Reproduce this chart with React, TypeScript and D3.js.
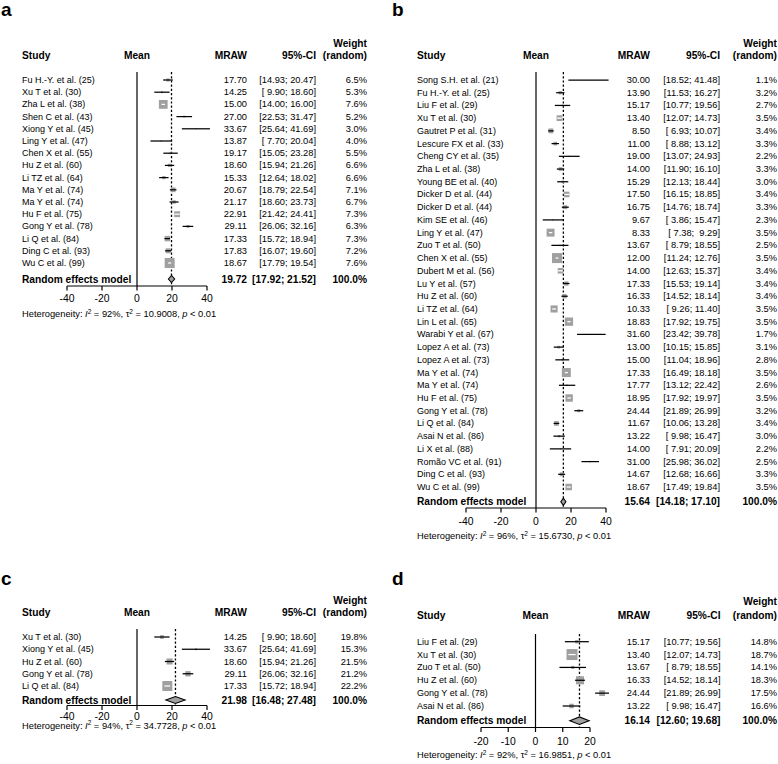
import React from "react";
import * as d3 from "d3";

const FONT = '"Liberation Sans", Arial, Helvetica, sans-serif';

// ---------- Panel a ----------
const studiesA = [
  "Fu H.-Y. et al. (25)", "Xu T et al. (30)", "Zha L et al. (38)", "Shen C et al. (43)",
  "Xiong Y et al. (45)", "Ling Y et al. (47)", "Chen X et al. (55)", "Hu Z et al. (60)",
  "Li TZ et al. (64)", "Ma Y et al. (74)", "Ma Y et al. (74)", "Hu F et al. (75)",
  "Gong Y et al. (78)", "Li Q et al. (84)", "Ding C et al. (93)", "Wu C et al. (99)",
];
const meanA = [17.7, 14.25, 15.0, 27.0, 33.67, 13.87, 19.17, 18.6, 15.33, 20.67, 21.17, 22.91, 29.11, 17.33, 17.83, 18.67];
const lowerA = [14.93, 9.9, 14.0, 22.53, 25.64, 7.7, 15.05, 15.94, 12.64, 18.79, 18.6, 21.42, 26.06, 15.72, 16.07, 17.79];
const upperA = [20.47, 18.6, 16.0, 31.47, 41.69, 20.04, 23.28, 21.26, 18.02, 22.54, 23.73, 24.41, 32.16, 18.94, 19.6, 19.54];
const weightA = [6.5, 5.3, 7.6, 5.2, 3.0, 4.0, 5.5, 6.6, 6.6, 7.1, 6.7, 7.3, 6.3, 7.3, 7.2, 7.6];
const pooledA = [19.72, 17.92, 21.52];
const hetA = ["92%", "10.9008"];

// ---------- Panel b ----------
const studiesB = [
  "Song S.H. et al. (21)", "Fu H.-Y. et al. (25)", "Liu F et al. (29)", "Xu T et al. (30)",
  "Gautret P et al. (31)", "Lescure FX et al. (33)", "Cheng CY et al. (35)", "Zha L et al. (38)",
  "Young BE et al. (40)", "Dicker D et al. (44)", "Dicker D et al. (44)", "Kim SE et al. (46)",
  "Ling Y et al. (47)", "Zuo T et al. (50)", "Chen X et al. (55)", "Dubert M et al. (56)",
  "Lu Y et al. (57)", "Hu Z et al. (60)", "Li TZ et al. (64)", "Lin L et al. (65)",
  "Warabi Y et al. (67)", "Lopez A et al. (73)", "Lopez A et al. (73)", "Ma Y et al. (74)",
  "Ma Y et al. (74)", "Hu F et al. (75)", "Gong Y et al. (78)", "Li Q et al. (84)",
  "Asai N et al. (86)", "Li X et al. (88)", "Romão VC et al. (91)", "Ding C et al. (93)",
  "Wu C et al. (99)",
];
const meanB = [30.0, 13.9, 15.17, 13.4, 8.5, 11.0, 19.0, 14.0, 15.29, 17.5, 16.75, 9.67, 8.33, 13.67, 12.0, 14.0, 17.33, 16.33, 10.33, 18.83, 31.6, 13.0, 15.0, 17.33, 17.77, 18.95, 24.44, 11.67, 13.22, 14.0, 31.0, 14.67, 18.67];
const lowerB = [18.52, 11.53, 10.77, 12.07, 6.93, 8.88, 13.07, 11.9, 12.13, 16.15, 14.76, 3.86, 7.38, 8.79, 11.24, 12.63, 15.53, 14.52, 9.26, 17.92, 23.42, 10.15, 11.04, 16.49, 13.12, 17.92, 21.89, 10.06, 9.98, 7.91, 25.98, 12.68, 17.49];
const upperB = [41.48, 16.27, 19.56, 14.73, 10.07, 13.12, 24.93, 16.1, 18.44, 18.85, 18.74, 15.47, 9.29, 18.55, 12.76, 15.37, 19.14, 18.14, 11.4, 19.75, 39.78, 15.85, 18.96, 18.18, 22.42, 19.97, 26.99, 13.28, 16.47, 20.09, 36.02, 16.66, 19.84];
const weightB = [1.1, 3.2, 2.7, 3.5, 3.4, 3.3, 2.2, 3.3, 3.0, 3.4, 3.3, 2.3, 3.5, 2.5, 3.5, 3.4, 3.4, 3.4, 3.5, 3.5, 1.7, 3.1, 2.8, 3.5, 2.6, 3.5, 3.2, 3.4, 3.0, 2.2, 2.5, 3.3, 3.5];
const pooledB = [15.64, 14.18, 17.1];
const hetB = ["96%", "15.6730"];

// ---------- Panel c ----------
const studiesC = ["Xu T et al. (30)", "Xiong Y et al. (45)", "Hu Z et al. (60)", "Gong Y et al. (78)", "Li Q et al. (84)"];
const meanC = [14.25, 33.67, 18.6, 29.11, 17.33];
const lowerC = [9.9, 25.64, 15.94, 26.06, 15.72];
const upperC = [18.6, 41.69, 21.26, 32.16, 18.94];
const weightC = [19.8, 15.3, 21.5, 21.2, 22.2];
const pooledC = [21.98, 16.48, 27.48];
const hetC = ["94%", "34.7728"];

// ---------- Panel d ----------
const studiesD = ["Liu F et al. (29)", "Xu T et al. (30)", "Zuo T et al. (50)", "Hu Z et al. (60)", "Gong Y et al. (78)", "Asai N et al. (86)"];
const meanD = [15.17, 13.4, 13.67, 16.33, 24.44, 13.22];
const lowerD = [10.77, 12.07, 8.79, 14.52, 21.89, 9.98];
const upperD = [19.56, 14.73, 18.55, 18.14, 26.99, 16.47];
const weightD = [14.8, 18.7, 14.1, 18.3, 17.5, 16.6];
const pooledD = [16.14, 12.6, 19.68];
const hetD = ["92%", "16.9851"];

const ticks40 = [-40, -20, 0, 20, 40];
const ticks20 = [-20, -10, 0, 10, 20];

type Layout = {
  x0: number; titleY: number; textX: number;
  hdr1: number; hdr2: number; lineTop: number;
  row0: number; step: number; pooledY: number;
  axisY: number; tickY: number; hetY: number;
  domain: [number, number]; range: [number, number]; ticks: number[];
  mrawR: number; ciR: number; wR: number; maxBox: number; diaH: number;
};

const pad = (v: number) => (v < 10 ? " " : "") + v.toFixed(2);
const fmtCI = (l: number, u: number) => "[" + pad(l) + "; " + pad(u) + "]";

const STUDY_FS = 9.0;
const ROW_FS = 9.3;
const HDR_FS = 10.2;
const SQ_FILL = "#a0a0a0";
const LW = 1.25;

function Panel(props: {
  label: string; studies: string[]; mean: number[]; lower: number[]; upper: number[];
  weight: number[]; pooled: number[]; het: string[]; L: Layout;
}) {
  const { label, studies, mean, lower, upper, weight, pooled, het, L } = props;
  const x = d3.scaleLinear().domain(L.domain).range(L.range);
  const ciW = studies.map((_, i) => upper[i] - lower[i]);
  const minW = d3.min(ciW) as number;
  const rowY = (i: number) => L.row0 + i * L.step;
  const axisMid = (L.range[0] + L.range[1]) / 2;
  const txt = { fontFamily: FONT, dominantBaseline: "central" as const, whiteSpace: "pre" as const };

  return (
    <g>
      <text x={L.x0 + 1} y={L.titleY} fontFamily={FONT} fontWeight="bold" fontSize={19}>{label}</text>
      {/* headers */}
      <text {...txt} x={L.wR} y={L.hdr1} fontSize={HDR_FS} fontWeight="bold" textAnchor="end">Weight</text>
      <text {...txt} x={L.textX} y={L.hdr2} fontSize={HDR_FS} fontWeight="bold">Study</text>
      <text {...txt} x={axisMid} y={L.hdr2} fontSize={HDR_FS} fontWeight="bold" textAnchor="middle">Mean</text>
      <text {...txt} x={L.mrawR} y={L.hdr2} fontSize={HDR_FS} fontWeight="bold" textAnchor="end">MRAW</text>
      <text {...txt} x={L.ciR} y={L.hdr2} fontSize={HDR_FS} fontWeight="bold" textAnchor="end">95%-CI</text>
      <text {...txt} x={L.wR} y={L.hdr2} fontSize={HDR_FS} fontWeight="bold" textAnchor="end">(random)</text>

      {/* reference lines */}
      <line x1={x(0)} x2={x(0)} y1={L.lineTop} y2={L.axisY} stroke="#000" strokeWidth={1.2} />
      <line x1={x(pooled[0])} x2={x(pooled[0])} y1={L.lineTop} y2={L.axisY} stroke="#000" strokeWidth={1.3} strokeDasharray="2.2,2" />

      {/* studies */}
      {studies.map((s, i) => {
        const y = rowY(i);
        const side = (L.maxBox * minW) / ciW[i];
        const x1 = x(lower[i]);
        const x2 = x(upper[i]);
        const inside = x2 - x1 <= side;
        return (
          <g key={i}>
            <text {...txt} x={L.textX} y={y} fontSize={STUDY_FS}>{s}</text>
            <rect x={x(mean[i]) - side / 2} y={y - side / 2} width={side} height={side} fill={SQ_FILL} />
            <line x1={x1} x2={x2} y1={y} y2={y} stroke={inside ? "#fff" : "#000"} strokeWidth={LW} />
            <text {...txt} x={L.mrawR} y={y} fontSize={ROW_FS} textAnchor="end">{mean[i].toFixed(2)}</text>
            <text {...txt} x={L.ciR} y={y} fontSize={ROW_FS} textAnchor="end" xmlSpace="preserve">{fmtCI(lower[i], upper[i])}</text>
            <text {...txt} x={L.wR} y={y} fontSize={ROW_FS} textAnchor="end">{weight[i].toFixed(1) + "%"}</text>
          </g>
        );
      })}

      {/* pooled */}
      <text {...txt} x={L.textX} y={L.pooledY} fontSize={HDR_FS} fontWeight="bold">Random effects model</text>
      <polygon
        points={[
          [x(pooled[1]), L.pooledY],
          [x(pooled[0]), L.pooledY - L.diaH / 2],
          [x(pooled[2]), L.pooledY],
          [x(pooled[0]), L.pooledY + L.diaH / 2],
        ].map((p) => p.join(",")).join(" ")}
        fill={SQ_FILL}
        stroke="#000"
        strokeWidth={1.1}
      />
      <text {...txt} x={L.mrawR} y={L.pooledY} fontSize={HDR_FS} fontWeight="bold" textAnchor="end">{pooled[0].toFixed(2)}</text>
      <text {...txt} x={L.ciR} y={L.pooledY} fontSize={HDR_FS} fontWeight="bold" textAnchor="end" xmlSpace="preserve">{fmtCI(pooled[1], pooled[2])}</text>
      <text {...txt} x={L.wR} y={L.pooledY} fontSize={HDR_FS} fontWeight="bold" textAnchor="end">100.0%</text>

      {/* axis */}
      <line x1={L.range[0]} x2={L.range[1]} y1={L.axisY} y2={L.axisY} stroke="#000" strokeWidth={1.2} />
      {L.ticks.map((t) => (
        <g key={t}>
          <line x1={x(t)} x2={x(t)} y1={L.axisY} y2={L.axisY + 4.5} stroke="#000" strokeWidth={1.2} />
          <text {...txt} x={x(t)} y={L.tickY} fontSize={10.4} textAnchor="middle">{String(t)}</text>
        </g>
      ))}

      {/* heterogeneity */}
      <text x={L.textX} y={L.hetY} fontFamily={FONT} fontSize={ROW_FS} dominantBaseline="central">
        <tspan>Heterogeneity: </tspan>
        <tspan fontStyle="italic">I</tspan>
        <tspan fontSize={6.5} dy={-3.5}>2</tspan>
        <tspan dy={3.5}>{" = " + het[0] + ", τ"}</tspan>
        <tspan fontSize={6.5} dy={-3.5}>2</tspan>
        <tspan dy={3.5}>{" = " + het[1] + ", "}</tspan>
        <tspan fontStyle="italic">p</tspan>
        <tspan>{" < 0.01"}</tspan>
      </text>
    </g>
  );
}

const layoutA: Layout = {
  x0: 0, titleY: 16, textX: 22, hdr1: 43, hdr2: 55, lineTop: 72,
  row0: 80, step: 12.2, pooledY: 279, axisY: 286, tickY: 298, hetY: 314,
  domain: [-40, 40], range: [67, 207], ticks: ticks40,
  mrawR: 247, ciR: 316, wR: 367, maxBox: 10, diaH: 7,
};
const layoutB: Layout = {
  x0: 391, titleY: 16, textX: 417, hdr1: 43, hdr2: 55, lineTop: 72,
  row0: 80, step: 12.72, pooledY: 501.7, axisY: 508, tickY: 521.5, hetY: 536,
  domain: [-40, 40], range: [466, 606], ticks: ticks40,
  mrawR: 650, ciR: 720, wR: 777, maxBox: 10, diaH: 7,
};
const layoutC: Layout = {
  x0: 0, titleY: 585, textX: 22, hdr1: 600, hdr2: 612.7, lineTop: 629,
  row0: 637, step: 12.25, pooledY: 700, axisY: 705.5, tickY: 716.5, hetY: 725.5,
  domain: [-40, 40], range: [67, 207], ticks: ticks40,
  mrawR: 247, ciR: 316, wR: 367, maxBox: 10, diaH: 7,
};
const layoutD: Layout = {
  x0: 391, titleY: 585, textX: 417, hdr1: 601.7, hdr2: 615, lineTop: 634,
  row0: 641.7, step: 12.86, pooledY: 720.7, axisY: 727.5, tickY: 741.5, hetY: 755,
  domain: [-20, 20], range: [481, 590], ticks: ticks20,
  mrawR: 650, ciR: 720.5, wR: 777, maxBox: 11, diaH: 7.5,
};

export default function App() {
  return (
    <svg
      width={778}
      height={764}
      viewBox="0 0 778 764"
      style={{ position: "absolute", left: 0, top: 0, background: "#fff" }}
    >
      <rect x={0} y={0} width={778} height={764} fill="#fff" />
      <Panel label="a" studies={studiesA} mean={meanA} lower={lowerA} upper={upperA} weight={weightA} pooled={pooledA} het={hetA} L={layoutA} />
      <Panel label="b" studies={studiesB} mean={meanB} lower={lowerB} upper={upperB} weight={weightB} pooled={pooledB} het={hetB} L={layoutB} />
      <Panel label="c" studies={studiesC} mean={meanC} lower={lowerC} upper={upperC} weight={weightC} pooled={pooledC} het={hetC} L={layoutC} />
      <Panel label="d" studies={studiesD} mean={meanD} lower={lowerD} upper={upperD} weight={weightD} pooled={pooledD} het={hetD} L={layoutD} />
    </svg>
  );
}
